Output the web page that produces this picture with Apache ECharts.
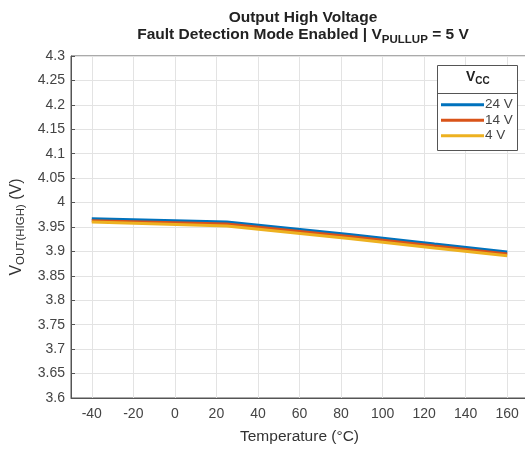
<!DOCTYPE html>
<html>
<head>
<meta charset="utf-8">
<script src="https://cdn.jsdelivr.net/npm/echarts@6/dist/echarts.min.js"></script>
<style>html,body{margin:0;padding:0;background:#fff}#c{width:525px;height:449px}</style>
</head>
<body>
<div id="c"></div>
<script>
const temperature = [-40, 25, 85, 125, 160];
const vcc24 = [3.967, 3.960, 3.934, 3.915, 3.899];
const vcc14 = [3.963, 3.956, 3.930, 3.911, 3.895];
const vcc4  = [3.960, 3.952, 3.926, 3.907, 3.891];
const seriesNames = ['24 V', '14 V', '4 V'];
const seriesColors = ['#0072BD', '#D95319', '#EDB120'];
const xTicks = [-40, -20, 0, 20, 40, 60, 80, 100, 120, 140, 160];

const chart = echarts.init(document.getElementById('c'));
const font = 'Liberation Sans, Arial, sans-serif';
const toPairs = arr => temperature.map((t, i) => [t, arr[i]]);
const allData = [vcc24, vcc14, vcc4];

const series = seriesNames.map((n, i) => ({
  name: n, type: 'line', data: toPairs(allData[i]), showSymbol: false, symbol: 'none', z: 3,
  lineStyle: { width: 3, color: seriesColors[i] }, itemStyle: { color: seriesColors[i] }
}));
series[0].markLine = {
  silent: true, symbol: 'none', z: 1, animation: false,
  label: { show: false },
  lineStyle: { color: '#e3e3e3', type: 'solid', width: 1 },
  emphasis: { disabled: true },
  data: xTicks.map(v => ({ xAxis: v }))
};

chart.setOption({
  animation: false,
  textStyle: { fontFamily: font },
  title: {
    left: 298, textAlign: 'center', top: 4,
    text: '{b|Output High Voltage}\n{b|Fault Detection Mode Enabled | V}{s|PULLUP}{b| = 5 V}',
    textStyle: {
      rich: {
        b: { fontSize: 15.5, fontWeight: 'bold', color: '#222', fontFamily: font, lineHeight: 17 },
        s: { fontSize: 11.5, fontWeight: 'bold', color: '#222', fontFamily: font, padding: [10, 0, 0, 0], lineHeight: 17 }
      }
    }
  },
  grid: { left: 71, top: 56, width: 457, height: 342, show: true, borderColor: '#555', borderWidth: 1, containLabel: false, outerBoundsMode: 'none' },
  xAxis: {
    type: 'value', min: -50, max: 170,
    name: 'Temperature (°C)', nameLocation: 'middle', nameGap: 31,
    nameTextStyle: { fontSize: 15.5, color: '#333' },
    axisLine: { onZero: false, lineStyle: { color: '#555' } },
    axisTick: { inside: true, length: 4, customValues: xTicks, lineStyle: { color: '#555' } },
    axisLabel: { customValues: xTicks, fontSize: 14, color: '#444', margin: 9 },
    splitLine: { show: false }
  },
  yAxis: {
    type: 'value', min: 3.6, max: 4.3, interval: 0.05,
    name: '{m|V}{s|OUT(HIGH)}{m| (V)}', nameLocation: 'middle', nameGap: 44, nameRotate: 90,
    nameTextStyle: {
      rich: {
        m: { fontSize: 16, color: '#333', fontFamily: font },
        s: { fontSize: 11.5, color: '#333', fontFamily: font, padding: [9, 0, 0, 0] }
      }
    },
    axisLine: { show: true, onZero: false, lineStyle: { color: '#555' } },
    axisTick: { show: true, inside: true, length: 4, lineStyle: { color: '#555' } },
    axisLabel: { fontSize: 14, color: '#444', margin: 6, formatter: v => String(parseFloat(v.toFixed(2))) },
    splitLine: { show: true, lineStyle: { color: '#e3e3e3' } }
  },
  legend: {
    orient: 'vertical', left: 437, top: 97, z: 101,
    padding: [0, 0, 0, 4],
    itemWidth: 43, itemHeight: 3, itemGap: 0, icon: 'rect',
    textStyle: { fontSize: 13.5, lineHeight: 15.5, height: 15.5, color: '#444', padding: [0, 0, 0, -4] },
    data: seriesNames
  },
  graphic: [
    { type: 'rect', z: 100, shape: { x: 437.5, y: 65.5, width: 80, height: 85 }, style: { fill: '#fff', stroke: '#555', lineWidth: 1 } },
    { type: 'text', left: 466, top: 70, z: 101,
      style: { text: '{m|V}{s|CC}', rich: {
        m: { fontSize: 14, fontWeight: 'bold', fill: '#222', fontFamily: font },
        s: { fontSize: 10, fontWeight: 'bold', fill: '#222', fontFamily: font, padding: [8, 0, 0, 0] } } } },
    { type: 'line', z: 101, shape: { x1: 437.5, y1: 93.5, x2: 517.5, y2: 93.5 }, style: { stroke: '#555', lineWidth: 1 } }
  ],
  series: series
});
</script>
</body>
</html>
